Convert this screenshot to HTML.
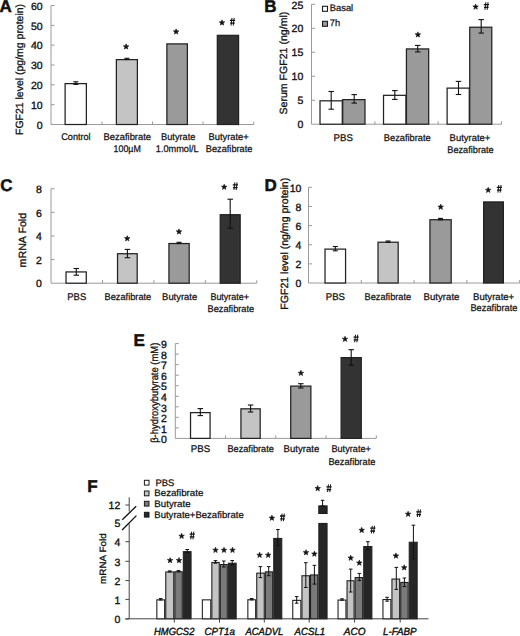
<!DOCTYPE html>
<html><head><meta charset="utf-8"><style>
html,body{margin:0;padding:0;background:#fff;}
svg{display:block;font-family:"Liberation Sans", sans-serif;}
text{fill:#111;}
</style></head><body>
<svg width="520" height="636" viewBox="0 0 520 636" text-rendering="geometricPrecision">
<rect width="520" height="636" fill="#fff"/>
<text x="-0.50" y="11.70" font-size="17" text-anchor="start" font-weight="bold" stroke="#111" stroke-width="0.5">A</text>
<line x1="51.00" y1="5.52" x2="51.00" y2="124.50" stroke="#9a9a9a" stroke-width="1.0"/>
<line x1="51.00" y1="104.67" x2="54.50" y2="104.67" stroke="#9a9a9a" stroke-width="1.0"/>
<text x="42.60" y="108.87" font-size="10.5" text-anchor="end" stroke="#111" stroke-width="0.35">10</text>
<line x1="51.00" y1="84.84" x2="54.50" y2="84.84" stroke="#9a9a9a" stroke-width="1.0"/>
<text x="42.60" y="89.04" font-size="10.5" text-anchor="end" stroke="#111" stroke-width="0.35">20</text>
<line x1="51.00" y1="65.01" x2="54.50" y2="65.01" stroke="#9a9a9a" stroke-width="1.0"/>
<text x="42.60" y="69.21" font-size="10.5" text-anchor="end" stroke="#111" stroke-width="0.35">30</text>
<line x1="51.00" y1="45.18" x2="54.50" y2="45.18" stroke="#9a9a9a" stroke-width="1.0"/>
<text x="42.60" y="49.38" font-size="10.5" text-anchor="end" stroke="#111" stroke-width="0.35">40</text>
<line x1="51.00" y1="25.35" x2="54.50" y2="25.35" stroke="#9a9a9a" stroke-width="1.0"/>
<text x="42.60" y="29.55" font-size="10.5" text-anchor="end" stroke="#111" stroke-width="0.35">50</text>
<line x1="51.00" y1="5.52" x2="54.50" y2="5.52" stroke="#9a9a9a" stroke-width="1.0"/>
<text x="42.60" y="9.72" font-size="10.5" text-anchor="end" stroke="#111" stroke-width="0.35">60</text>
<text x="42.60" y="128.70" font-size="10.5" text-anchor="end" stroke="#111" stroke-width="0.35">0</text>
<line x1="51.00" y1="124.50" x2="253.80" y2="124.50" stroke="#9a9a9a" stroke-width="1.0"/>
<line x1="102.00" y1="124.50" x2="102.00" y2="121.50" stroke="#9a9a9a" stroke-width="1.0"/>
<line x1="152.50" y1="124.50" x2="152.50" y2="121.50" stroke="#9a9a9a" stroke-width="1.0"/>
<line x1="203.00" y1="124.50" x2="203.00" y2="121.50" stroke="#9a9a9a" stroke-width="1.0"/>
<line x1="253.80" y1="124.50" x2="253.80" y2="121.50" stroke="#9a9a9a" stroke-width="1.0"/>
<text transform="translate(23.00,69.45) rotate(-90)" font-size="10.5" text-anchor="middle" textLength="131.10" lengthAdjust="spacingAndGlyphs" stroke="#111" stroke-width="0.3">FGF21 level (pg/mg protein)</text>
<rect x="65.12" y="83.62" width="21.25" height="40.88" fill="#ffffff" stroke="#222" stroke-width="1.25"/>
<line x1="75.80" y1="81.80" x2="75.80" y2="84.40" stroke="#111" stroke-width="1.1"/>
<line x1="73.30" y1="81.80" x2="78.30" y2="81.80" stroke="#111" stroke-width="1.1"/>
<line x1="73.30" y1="84.40" x2="78.30" y2="84.40" stroke="#111" stroke-width="1.1"/>
<rect x="116.38" y="59.62" width="21.00" height="64.88" fill="#c4c4c4" stroke="#222" stroke-width="1.25"/>
<line x1="126.90" y1="58.30" x2="126.90" y2="59.50" stroke="#111" stroke-width="1.1"/>
<line x1="124.40" y1="58.30" x2="129.40" y2="58.30" stroke="#111" stroke-width="1.1"/>
<line x1="124.40" y1="59.50" x2="129.40" y2="59.50" stroke="#111" stroke-width="1.1"/>
<rect x="166.88" y="43.88" width="20.50" height="80.62" fill="#9a9a9a" stroke="#222" stroke-width="1.25"/>
<rect x="217.32" y="35.33" width="21.25" height="89.17" fill="#333333" stroke="#222" stroke-width="1.25"/>
<polygon points="126.10,43.85 126.82,45.76 128.86,45.85 127.26,47.13 127.80,49.10 126.10,47.97 124.40,49.10 124.94,47.13 123.34,45.85 125.38,45.76" fill="#111" stroke="#111" stroke-width="0.6" stroke-linejoin="round"/>
<polygon points="176.10,28.85 176.82,30.76 178.86,30.85 177.26,32.13 177.80,34.10 176.10,32.97 174.40,34.10 174.94,32.13 173.34,30.85 175.38,30.76" fill="#111" stroke="#111" stroke-width="0.6" stroke-linejoin="round"/>
<polygon points="222.00,19.85 222.72,21.76 224.76,21.85 223.16,23.13 223.70,25.10 222.00,23.97 220.30,25.10 220.84,23.13 219.24,21.85 221.28,21.76" fill="#111" stroke="#111" stroke-width="0.6" stroke-linejoin="round"/>
<path d="M231.05,25.60L231.95,18.00M233.25,25.60L234.15,18.00" stroke="#111" stroke-width="1.0" fill="none"/>
<path d="M229.90,20.40L235.10,20.40M230.10,23.20L234.70,23.20" stroke="#111" stroke-width="1.3" fill="none"/>
<text x="75.95" y="140.30" font-size="9.7" text-anchor="middle" textLength="29.30" lengthAdjust="spacingAndGlyphs" stroke="#111" stroke-width="0.25">Control</text>
<text x="127.30" y="140.30" font-size="9.7" text-anchor="middle" textLength="47.40" lengthAdjust="spacingAndGlyphs" stroke="#111" stroke-width="0.25">Bezafibrate</text>
<text x="127.20" y="152.30" font-size="9.7" text-anchor="middle" textLength="27.20" lengthAdjust="spacingAndGlyphs" stroke="#111" stroke-width="0.25">100µM</text>
<text x="178.25" y="140.30" font-size="9.7" text-anchor="middle" textLength="34.30" lengthAdjust="spacingAndGlyphs" stroke="#111" stroke-width="0.25">Butyrate</text>
<text x="177.20" y="152.30" font-size="9.7" text-anchor="middle" textLength="42.80" lengthAdjust="spacingAndGlyphs" stroke="#111" stroke-width="0.25">1.0mmol/L</text>
<text x="228.60" y="140.30" font-size="9.7" text-anchor="middle" textLength="40.20" lengthAdjust="spacingAndGlyphs" stroke="#111" stroke-width="0.25">Butyrate+</text>
<text x="229.10" y="152.30" font-size="9.7" text-anchor="middle" textLength="46.60" lengthAdjust="spacingAndGlyphs" stroke="#111" stroke-width="0.25">Bezafibrate</text>
<text x="264.30" y="11.80" font-size="17" text-anchor="start" font-weight="bold" stroke="#111" stroke-width="0.5">B</text>
<line x1="311.50" y1="4.30" x2="311.50" y2="124.20" stroke="#9a9a9a" stroke-width="1.0"/>
<line x1="311.50" y1="100.22" x2="315.00" y2="100.22" stroke="#9a9a9a" stroke-width="1.0"/>
<text x="303.30" y="104.42" font-size="10.5" text-anchor="end" stroke="#111" stroke-width="0.35">5</text>
<line x1="311.50" y1="76.24" x2="315.00" y2="76.24" stroke="#9a9a9a" stroke-width="1.0"/>
<text x="303.30" y="80.44" font-size="10.5" text-anchor="end" stroke="#111" stroke-width="0.35">10</text>
<line x1="311.50" y1="52.26" x2="315.00" y2="52.26" stroke="#9a9a9a" stroke-width="1.0"/>
<text x="303.30" y="56.46" font-size="10.5" text-anchor="end" stroke="#111" stroke-width="0.35">15</text>
<line x1="311.50" y1="28.28" x2="315.00" y2="28.28" stroke="#9a9a9a" stroke-width="1.0"/>
<text x="303.30" y="32.48" font-size="10.5" text-anchor="end" stroke="#111" stroke-width="0.35">20</text>
<line x1="311.50" y1="4.30" x2="315.00" y2="4.30" stroke="#9a9a9a" stroke-width="1.0"/>
<text x="303.30" y="8.50" font-size="10.5" text-anchor="end" stroke="#111" stroke-width="0.35">25</text>
<text x="303.30" y="128.40" font-size="10.5" text-anchor="end" stroke="#111" stroke-width="0.35">0</text>
<line x1="311.50" y1="124.20" x2="501.60" y2="124.20" stroke="#9a9a9a" stroke-width="1.0"/>
<line x1="374.90" y1="124.20" x2="374.90" y2="121.20" stroke="#9a9a9a" stroke-width="1.0"/>
<line x1="438.20" y1="124.20" x2="438.20" y2="121.20" stroke="#9a9a9a" stroke-width="1.0"/>
<line x1="501.60" y1="124.20" x2="501.60" y2="121.20" stroke="#9a9a9a" stroke-width="1.0"/>
<text transform="translate(286.60,63.10) rotate(-90)" font-size="10.5" text-anchor="middle" textLength="102.80" lengthAdjust="spacingAndGlyphs" stroke="#111" stroke-width="0.3">Serum FGF21 (ng/ml)</text>
<rect x="322.5" y="6.3" width="5" height="5" fill="#fff" stroke="#1a1a1a" stroke-width="1.1"/>
<rect x="322.5" y="21.3" width="5" height="5" fill="#9a9a9a" stroke="#1a1a1a" stroke-width="1.1"/>
<text x="329.80" y="10.80" font-size="9.5" text-anchor="start" textLength="23.40" lengthAdjust="spacingAndGlyphs" stroke="#111" stroke-width="0.25">Basal</text>
<text x="329.80" y="26.00" font-size="9.5" text-anchor="start" textLength="10.30" lengthAdjust="spacingAndGlyphs" stroke="#111" stroke-width="0.25">7h</text>
<rect x="320.02" y="100.83" width="22.25" height="23.38" fill="#fff" stroke="#222" stroke-width="1.25"/>
<line x1="331.20" y1="91.50" x2="331.20" y2="109.20" stroke="#111" stroke-width="1.1"/>
<line x1="328.45" y1="91.50" x2="333.95" y2="91.50" stroke="#111" stroke-width="1.1"/>
<line x1="328.45" y1="109.20" x2="333.95" y2="109.20" stroke="#111" stroke-width="1.1"/>
<rect x="342.73" y="99.62" width="22.25" height="24.58" fill="#9a9a9a" stroke="#222" stroke-width="1.25"/>
<line x1="354.20" y1="94.60" x2="354.20" y2="103.10" stroke="#111" stroke-width="1.1"/>
<line x1="351.45" y1="94.60" x2="356.95" y2="94.60" stroke="#111" stroke-width="1.1"/>
<line x1="351.45" y1="103.10" x2="356.95" y2="103.10" stroke="#111" stroke-width="1.1"/>
<rect x="383.52" y="95.33" width="22.45" height="28.88" fill="#fff" stroke="#222" stroke-width="1.25"/>
<line x1="394.80" y1="90.60" x2="394.80" y2="99.40" stroke="#111" stroke-width="1.1"/>
<line x1="392.05" y1="90.60" x2="397.55" y2="90.60" stroke="#111" stroke-width="1.1"/>
<line x1="392.05" y1="99.40" x2="397.55" y2="99.40" stroke="#111" stroke-width="1.1"/>
<rect x="406.43" y="48.92" width="22.25" height="75.28" fill="#9a9a9a" stroke="#222" stroke-width="1.25"/>
<line x1="417.70" y1="45.40" x2="417.70" y2="51.90" stroke="#111" stroke-width="1.1"/>
<line x1="414.95" y1="45.40" x2="420.45" y2="45.40" stroke="#111" stroke-width="1.1"/>
<line x1="414.95" y1="51.90" x2="420.45" y2="51.90" stroke="#111" stroke-width="1.1"/>
<rect x="447.12" y="88.12" width="22.15" height="36.08" fill="#fff" stroke="#222" stroke-width="1.25"/>
<line x1="458.50" y1="81.40" x2="458.50" y2="94.50" stroke="#111" stroke-width="1.1"/>
<line x1="455.75" y1="81.40" x2="461.25" y2="81.40" stroke="#111" stroke-width="1.1"/>
<line x1="455.75" y1="94.50" x2="461.25" y2="94.50" stroke="#111" stroke-width="1.1"/>
<rect x="469.73" y="27.23" width="22.05" height="96.97" fill="#9a9a9a" stroke="#222" stroke-width="1.25"/>
<line x1="481.20" y1="19.60" x2="481.20" y2="33.10" stroke="#111" stroke-width="1.1"/>
<line x1="478.45" y1="19.60" x2="483.95" y2="19.60" stroke="#111" stroke-width="1.1"/>
<line x1="478.45" y1="33.10" x2="483.95" y2="33.10" stroke="#111" stroke-width="1.1"/>
<polygon points="417.90,31.85 418.62,33.76 420.66,33.85 419.06,35.13 419.60,37.10 417.90,35.97 416.20,37.10 416.74,35.13 415.14,33.85 417.18,33.76" fill="#111" stroke="#111" stroke-width="0.6" stroke-linejoin="round"/>
<polygon points="475.60,4.00 476.32,5.91 478.36,6.00 476.76,7.28 477.30,9.25 475.60,8.12 473.90,9.25 474.44,7.28 472.84,6.00 474.88,5.91" fill="#111" stroke="#111" stroke-width="0.6" stroke-linejoin="round"/>
<path d="M484.95,9.80L485.85,2.20M487.15,9.80L488.05,2.20" stroke="#111" stroke-width="1.0" fill="none"/>
<path d="M483.80,4.60L489.00,4.60M484.00,7.40L488.60,7.40" stroke="#111" stroke-width="1.3" fill="none"/>
<text x="343.25" y="140.50" font-size="9.7" text-anchor="middle" textLength="19.30" lengthAdjust="spacingAndGlyphs" stroke="#111" stroke-width="0.25">PBS</text>
<text x="407.30" y="140.50" font-size="9.7" text-anchor="middle" textLength="47.00" lengthAdjust="spacingAndGlyphs" stroke="#111" stroke-width="0.25">Bezafibrate</text>
<text x="470.00" y="140.50" font-size="9.7" text-anchor="middle" textLength="40.80" lengthAdjust="spacingAndGlyphs" stroke="#111" stroke-width="0.25">Butyrate+</text>
<text x="470.50" y="152.60" font-size="9.7" text-anchor="middle" textLength="46.40" lengthAdjust="spacingAndGlyphs" stroke="#111" stroke-width="0.25">Bezafibrate</text>
<text x="0.30" y="190.90" font-size="17" text-anchor="start" font-weight="bold" stroke="#111" stroke-width="0.5">C</text>
<line x1="51.00" y1="188.70" x2="51.00" y2="283.20" stroke="#9a9a9a" stroke-width="1.0"/>
<line x1="51.00" y1="259.57" x2="54.50" y2="259.57" stroke="#9a9a9a" stroke-width="1.0"/>
<text x="41.90" y="263.77" font-size="10.5" text-anchor="end" stroke="#111" stroke-width="0.35">2</text>
<line x1="51.00" y1="235.95" x2="54.50" y2="235.95" stroke="#9a9a9a" stroke-width="1.0"/>
<text x="41.90" y="240.15" font-size="10.5" text-anchor="end" stroke="#111" stroke-width="0.35">4</text>
<line x1="51.00" y1="212.32" x2="54.50" y2="212.32" stroke="#9a9a9a" stroke-width="1.0"/>
<text x="41.90" y="216.52" font-size="10.5" text-anchor="end" stroke="#111" stroke-width="0.35">6</text>
<line x1="51.00" y1="188.70" x2="54.50" y2="188.70" stroke="#9a9a9a" stroke-width="1.0"/>
<text x="41.90" y="192.90" font-size="10.5" text-anchor="end" stroke="#111" stroke-width="0.35">8</text>
<text x="41.90" y="287.40" font-size="10.5" text-anchor="end" stroke="#111" stroke-width="0.35">0</text>
<line x1="51.00" y1="283.20" x2="256.80" y2="283.20" stroke="#9a9a9a" stroke-width="1.0"/>
<line x1="102.50" y1="283.20" x2="102.50" y2="280.20" stroke="#9a9a9a" stroke-width="1.0"/>
<line x1="153.90" y1="283.20" x2="153.90" y2="280.20" stroke="#9a9a9a" stroke-width="1.0"/>
<line x1="205.40" y1="283.20" x2="205.40" y2="280.20" stroke="#9a9a9a" stroke-width="1.0"/>
<line x1="256.80" y1="283.20" x2="256.80" y2="280.20" stroke="#9a9a9a" stroke-width="1.0"/>
<text transform="translate(25.90,240.15) rotate(-90)" font-size="10.5" text-anchor="middle" textLength="54.70" lengthAdjust="spacingAndGlyphs" stroke="#111" stroke-width="0.3">mRNA Fold</text>
<rect x="66.03" y="271.93" width="20.25" height="11.27" fill="#fff" stroke="#222" stroke-width="1.25"/>
<line x1="76.30" y1="268.50" x2="76.30" y2="275.20" stroke="#111" stroke-width="1.1"/>
<line x1="73.55" y1="268.50" x2="79.05" y2="268.50" stroke="#111" stroke-width="1.1"/>
<line x1="73.55" y1="275.20" x2="79.05" y2="275.20" stroke="#111" stroke-width="1.1"/>
<rect x="117.53" y="253.72" width="19.65" height="29.47" fill="#c4c4c4" stroke="#222" stroke-width="1.25"/>
<line x1="127.40" y1="249.40" x2="127.40" y2="257.70" stroke="#111" stroke-width="1.1"/>
<line x1="124.65" y1="249.40" x2="130.15" y2="249.40" stroke="#111" stroke-width="1.1"/>
<line x1="124.65" y1="257.70" x2="130.15" y2="257.70" stroke="#111" stroke-width="1.1"/>
<rect x="168.93" y="243.53" width="20.25" height="39.67" fill="#9a9a9a" stroke="#222" stroke-width="1.25"/>
<line x1="179.00" y1="242.30" x2="179.00" y2="243.50" stroke="#111" stroke-width="1.1"/>
<line x1="176.50" y1="242.30" x2="181.50" y2="242.30" stroke="#111" stroke-width="1.1"/>
<line x1="176.50" y1="243.50" x2="181.50" y2="243.50" stroke="#111" stroke-width="1.1"/>
<rect x="220.22" y="214.72" width="19.95" height="68.47" fill="#333333" stroke="#222" stroke-width="1.25"/>
<line x1="230.20" y1="199.20" x2="230.20" y2="228.30" stroke="#111" stroke-width="1.1"/>
<line x1="227.45" y1="199.20" x2="232.95" y2="199.20" stroke="#111" stroke-width="1.1"/>
<line x1="227.45" y1="228.30" x2="232.95" y2="228.30" stroke="#111" stroke-width="1.1"/>
<polygon points="127.20,235.65 127.92,237.56 129.96,237.65 128.36,238.93 128.90,240.90 127.20,239.77 125.50,240.90 126.04,238.93 124.44,237.65 126.48,237.56" fill="#111" stroke="#111" stroke-width="0.6" stroke-linejoin="round"/>
<polygon points="179.00,228.85 179.72,230.76 181.76,230.85 180.16,232.13 180.70,234.10 179.00,232.97 177.30,234.10 177.84,232.13 176.24,230.85 178.28,230.76" fill="#111" stroke="#111" stroke-width="0.6" stroke-linejoin="round"/>
<polygon points="224.20,184.20 224.92,186.11 226.96,186.20 225.36,187.48 225.90,189.45 224.20,188.32 222.50,189.45 223.04,187.48 221.44,186.20 223.48,186.11" fill="#111" stroke="#111" stroke-width="0.6" stroke-linejoin="round"/>
<path d="M233.95,190.00L234.85,182.40M236.15,190.00L237.05,182.40" stroke="#111" stroke-width="1.0" fill="none"/>
<path d="M232.80,184.80L238.00,184.80M233.00,187.60L237.60,187.60" stroke="#111" stroke-width="1.3" fill="none"/>
<text x="76.75" y="300.00" font-size="9.7" text-anchor="middle" textLength="18.90" lengthAdjust="spacingAndGlyphs" stroke="#111" stroke-width="0.25">PBS</text>
<text x="127.90" y="300.00" font-size="9.7" text-anchor="middle" textLength="46.60" lengthAdjust="spacingAndGlyphs" stroke="#111" stroke-width="0.25">Bezafibrate</text>
<text x="179.65" y="300.00" font-size="9.7" text-anchor="middle" textLength="35.10" lengthAdjust="spacingAndGlyphs" stroke="#111" stroke-width="0.25">Butyrate</text>
<text x="229.75" y="300.00" font-size="9.7" text-anchor="middle" textLength="38.70" lengthAdjust="spacingAndGlyphs" stroke="#111" stroke-width="0.25">Butyrate+</text>
<text x="230.85" y="311.90" font-size="9.7" text-anchor="middle" textLength="46.70" lengthAdjust="spacingAndGlyphs" stroke="#111" stroke-width="0.25">Bezafibrate</text>
<text x="264.40" y="190.90" font-size="17" text-anchor="start" font-weight="bold" stroke="#111" stroke-width="0.5">D</text>
<line x1="308.50" y1="187.30" x2="308.50" y2="283.00" stroke="#9a9a9a" stroke-width="1.0"/>
<line x1="308.50" y1="263.86" x2="312.00" y2="263.86" stroke="#9a9a9a" stroke-width="1.0"/>
<text x="301.40" y="268.06" font-size="10.5" text-anchor="end" stroke="#111" stroke-width="0.35">2</text>
<line x1="308.50" y1="244.72" x2="312.00" y2="244.72" stroke="#9a9a9a" stroke-width="1.0"/>
<text x="301.40" y="248.92" font-size="10.5" text-anchor="end" stroke="#111" stroke-width="0.35">4</text>
<line x1="308.50" y1="225.58" x2="312.00" y2="225.58" stroke="#9a9a9a" stroke-width="1.0"/>
<text x="301.40" y="229.78" font-size="10.5" text-anchor="end" stroke="#111" stroke-width="0.35">6</text>
<line x1="308.50" y1="206.44" x2="312.00" y2="206.44" stroke="#9a9a9a" stroke-width="1.0"/>
<text x="301.40" y="210.64" font-size="10.5" text-anchor="end" stroke="#111" stroke-width="0.35">8</text>
<line x1="308.50" y1="187.30" x2="312.00" y2="187.30" stroke="#9a9a9a" stroke-width="1.0"/>
<text x="301.40" y="191.50" font-size="10.5" text-anchor="end" stroke="#111" stroke-width="0.35">10</text>
<text x="301.40" y="287.20" font-size="10.5" text-anchor="end" stroke="#111" stroke-width="0.35">0</text>
<line x1="308.50" y1="283.00" x2="519.70" y2="283.00" stroke="#9a9a9a" stroke-width="1.0"/>
<line x1="361.30" y1="283.00" x2="361.30" y2="280.00" stroke="#9a9a9a" stroke-width="1.0"/>
<line x1="414.10" y1="283.00" x2="414.10" y2="280.00" stroke="#9a9a9a" stroke-width="1.0"/>
<line x1="466.90" y1="283.00" x2="466.90" y2="280.00" stroke="#9a9a9a" stroke-width="1.0"/>
<line x1="519.70" y1="283.00" x2="519.70" y2="280.00" stroke="#9a9a9a" stroke-width="1.0"/>
<text transform="translate(288.40,243.75) rotate(-90)" font-size="10.5" text-anchor="middle" textLength="131.90" lengthAdjust="spacingAndGlyphs" stroke="#111" stroke-width="0.3">FGF21 level (ng/mg protein)</text>
<rect x="325.02" y="249.12" width="20.55" height="33.88" fill="#fff" stroke="#222" stroke-width="1.25"/>
<line x1="335.30" y1="246.50" x2="335.30" y2="250.80" stroke="#111" stroke-width="1.1"/>
<line x1="332.80" y1="246.50" x2="337.80" y2="246.50" stroke="#111" stroke-width="1.1"/>
<line x1="332.80" y1="250.80" x2="337.80" y2="250.80" stroke="#111" stroke-width="1.1"/>
<rect x="378.02" y="242.22" width="20.15" height="40.78" fill="#c4c4c4" stroke="#222" stroke-width="1.25"/>
<line x1="388.10" y1="241.00" x2="388.10" y2="242.30" stroke="#111" stroke-width="1.1"/>
<line x1="385.60" y1="241.00" x2="390.60" y2="241.00" stroke="#111" stroke-width="1.1"/>
<line x1="385.60" y1="242.30" x2="390.60" y2="242.30" stroke="#111" stroke-width="1.1"/>
<rect x="429.93" y="219.72" width="21.25" height="63.28" fill="#9a9a9a" stroke="#222" stroke-width="1.25"/>
<line x1="440.50" y1="218.40" x2="440.50" y2="219.80" stroke="#111" stroke-width="1.1"/>
<line x1="438.00" y1="218.40" x2="443.00" y2="218.40" stroke="#111" stroke-width="1.1"/>
<line x1="438.00" y1="219.80" x2="443.00" y2="219.80" stroke="#111" stroke-width="1.1"/>
<rect x="483.62" y="201.93" width="19.75" height="81.07" fill="#333333" stroke="#222" stroke-width="1.25"/>
<polygon points="440.70,204.15 441.42,206.06 443.46,206.15 441.86,207.43 442.40,209.40 440.70,208.27 439.00,209.40 439.54,207.43 437.94,206.15 439.98,206.06" fill="#111" stroke="#111" stroke-width="0.6" stroke-linejoin="round"/>
<polygon points="488.20,187.25 488.92,189.16 490.96,189.25 489.36,190.53 489.90,192.50 488.20,191.37 486.50,192.50 487.04,190.53 485.44,189.25 487.48,189.16" fill="#111" stroke="#111" stroke-width="0.6" stroke-linejoin="round"/>
<path d="M497.95,192.60L498.85,185.00M500.15,192.60L501.05,185.00" stroke="#111" stroke-width="1.0" fill="none"/>
<path d="M496.80,187.40L502.00,187.40M497.00,190.20L501.60,190.20" stroke="#111" stroke-width="1.3" fill="none"/>
<text x="335.40" y="299.50" font-size="9.7" text-anchor="middle" textLength="19.20" lengthAdjust="spacingAndGlyphs" stroke="#111" stroke-width="0.25">PBS</text>
<text x="387.85" y="299.50" font-size="9.7" text-anchor="middle" textLength="46.50" lengthAdjust="spacingAndGlyphs" stroke="#111" stroke-width="0.25">Bezafibrate</text>
<text x="441.50" y="299.50" font-size="9.7" text-anchor="middle" textLength="35.80" lengthAdjust="spacingAndGlyphs" stroke="#111" stroke-width="0.25">Butyrate</text>
<text x="493.60" y="299.70" font-size="9.7" text-anchor="middle" textLength="41.20" lengthAdjust="spacingAndGlyphs" stroke="#111" stroke-width="0.25">Butyrate+</text>
<text x="493.95" y="311.40" font-size="9.7" text-anchor="middle" textLength="47.10" lengthAdjust="spacingAndGlyphs" stroke="#111" stroke-width="0.25">Bezafibrate</text>
<text x="133.50" y="346.00" font-size="17" text-anchor="start" font-weight="bold" stroke="#111" stroke-width="0.5">E</text>
<line x1="175.30" y1="343.60" x2="175.30" y2="438.40" stroke="#9a9a9a" stroke-width="1.0"/>
<line x1="175.30" y1="427.87" x2="178.80" y2="427.87" stroke="#9a9a9a" stroke-width="1.0"/>
<text x="166.80" y="432.57" font-size="10.5" text-anchor="end" stroke="#111" stroke-width="0.35">1</text>
<line x1="175.30" y1="417.33" x2="178.80" y2="417.33" stroke="#9a9a9a" stroke-width="1.0"/>
<text x="166.80" y="422.03" font-size="10.5" text-anchor="end" stroke="#111" stroke-width="0.35">2</text>
<line x1="175.30" y1="406.80" x2="178.80" y2="406.80" stroke="#9a9a9a" stroke-width="1.0"/>
<text x="166.80" y="411.50" font-size="10.5" text-anchor="end" stroke="#111" stroke-width="0.35">3</text>
<line x1="175.30" y1="396.27" x2="178.80" y2="396.27" stroke="#9a9a9a" stroke-width="1.0"/>
<text x="166.80" y="400.97" font-size="10.5" text-anchor="end" stroke="#111" stroke-width="0.35">4</text>
<line x1="175.30" y1="385.73" x2="178.80" y2="385.73" stroke="#9a9a9a" stroke-width="1.0"/>
<text x="166.80" y="390.43" font-size="10.5" text-anchor="end" stroke="#111" stroke-width="0.35">5</text>
<line x1="175.30" y1="375.20" x2="178.80" y2="375.20" stroke="#9a9a9a" stroke-width="1.0"/>
<text x="166.80" y="379.90" font-size="10.5" text-anchor="end" stroke="#111" stroke-width="0.35">6</text>
<line x1="175.30" y1="364.67" x2="178.80" y2="364.67" stroke="#9a9a9a" stroke-width="1.0"/>
<text x="166.80" y="369.37" font-size="10.5" text-anchor="end" stroke="#111" stroke-width="0.35">7</text>
<line x1="175.30" y1="354.13" x2="178.80" y2="354.13" stroke="#9a9a9a" stroke-width="1.0"/>
<text x="166.80" y="358.83" font-size="10.5" text-anchor="end" stroke="#111" stroke-width="0.35">8</text>
<line x1="175.30" y1="343.60" x2="178.80" y2="343.60" stroke="#9a9a9a" stroke-width="1.0"/>
<text x="166.80" y="348.30" font-size="10.5" text-anchor="end" stroke="#111" stroke-width="0.35">9</text>
<text x="166.80" y="443.00" font-size="10.5" text-anchor="end" stroke="#111" stroke-width="0.35">0</text>
<line x1="175.30" y1="438.40" x2="376.30" y2="438.40" stroke="#9a9a9a" stroke-width="1.0"/>
<line x1="225.50" y1="438.40" x2="225.50" y2="435.40" stroke="#9a9a9a" stroke-width="1.0"/>
<line x1="275.80" y1="438.40" x2="275.80" y2="435.40" stroke="#9a9a9a" stroke-width="1.0"/>
<line x1="326.00" y1="438.40" x2="326.00" y2="435.40" stroke="#9a9a9a" stroke-width="1.0"/>
<line x1="376.30" y1="438.40" x2="376.30" y2="435.40" stroke="#9a9a9a" stroke-width="1.0"/>
<text transform="translate(158.00,392.75) rotate(-90)" font-size="10.5" text-anchor="middle" textLength="100.10" lengthAdjust="spacingAndGlyphs" stroke="#111" stroke-width="0.3">β-hydroxybutyrate (mM)</text>
<rect x="190.53" y="412.62" width="19.55" height="25.77" fill="#fff" stroke="#222" stroke-width="1.25"/>
<line x1="200.30" y1="408.60" x2="200.30" y2="415.60" stroke="#111" stroke-width="1.1"/>
<line x1="197.55" y1="408.60" x2="203.05" y2="408.60" stroke="#111" stroke-width="1.1"/>
<line x1="197.55" y1="415.60" x2="203.05" y2="415.60" stroke="#111" stroke-width="1.1"/>
<rect x="240.93" y="408.82" width="19.25" height="29.57" fill="#c4c4c4" stroke="#222" stroke-width="1.25"/>
<line x1="250.60" y1="405.00" x2="250.60" y2="412.00" stroke="#111" stroke-width="1.1"/>
<line x1="247.85" y1="405.00" x2="253.35" y2="405.00" stroke="#111" stroke-width="1.1"/>
<line x1="247.85" y1="412.00" x2="253.35" y2="412.00" stroke="#111" stroke-width="1.1"/>
<rect x="290.73" y="386.12" width="20.15" height="52.27" fill="#9a9a9a" stroke="#222" stroke-width="1.25"/>
<line x1="300.80" y1="383.70" x2="300.80" y2="388.00" stroke="#111" stroke-width="1.1"/>
<line x1="298.05" y1="383.70" x2="303.55" y2="383.70" stroke="#111" stroke-width="1.1"/>
<line x1="298.05" y1="388.00" x2="303.55" y2="388.00" stroke="#111" stroke-width="1.1"/>
<rect x="341.12" y="357.62" width="20.15" height="80.77" fill="#333333" stroke="#222" stroke-width="1.25"/>
<line x1="351.20" y1="349.70" x2="351.20" y2="365.30" stroke="#111" stroke-width="1.1"/>
<line x1="348.45" y1="349.70" x2="353.95" y2="349.70" stroke="#111" stroke-width="1.1"/>
<line x1="348.45" y1="365.30" x2="353.95" y2="365.30" stroke="#111" stroke-width="1.1"/>
<polygon points="300.90,370.25 301.62,372.16 303.66,372.25 302.06,373.53 302.60,375.50 300.90,374.37 299.20,375.50 299.74,373.53 298.14,372.25 300.18,372.16" fill="#111" stroke="#111" stroke-width="0.6" stroke-linejoin="round"/>
<polygon points="345.00,336.25 345.72,338.16 347.76,338.25 346.16,339.53 346.70,341.50 345.00,340.37 343.30,341.50 343.84,339.53 342.24,338.25 344.28,338.16" fill="#111" stroke="#111" stroke-width="0.6" stroke-linejoin="round"/>
<path d="M354.65,342.30L355.55,334.70M356.85,342.30L357.75,334.70" stroke="#111" stroke-width="1.0" fill="none"/>
<path d="M353.50,337.10L358.70,337.10M353.70,339.90L358.30,339.90" stroke="#111" stroke-width="1.3" fill="none"/>
<text x="200.50" y="452.20" font-size="9.7" text-anchor="middle" textLength="19.40" lengthAdjust="spacingAndGlyphs" stroke="#111" stroke-width="0.25">PBS</text>
<text x="250.65" y="452.20" font-size="9.7" text-anchor="middle" textLength="46.50" lengthAdjust="spacingAndGlyphs" stroke="#111" stroke-width="0.25">Bezafibrate</text>
<text x="301.40" y="452.20" font-size="9.7" text-anchor="middle" textLength="35.60" lengthAdjust="spacingAndGlyphs" stroke="#111" stroke-width="0.25">Butyrate</text>
<text x="351.15" y="452.40" font-size="9.7" text-anchor="middle" textLength="39.50" lengthAdjust="spacingAndGlyphs" stroke="#111" stroke-width="0.25">Butyrate+</text>
<text x="351.90" y="464.50" font-size="9.7" text-anchor="middle" textLength="47.00" lengthAdjust="spacingAndGlyphs" stroke="#111" stroke-width="0.25">Bezafibrate</text>
<text x="87.20" y="492.00" font-size="17" text-anchor="start" font-weight="bold" stroke="#111" stroke-width="0.5">F</text>
<line x1="129.20" y1="497.30" x2="129.20" y2="511.50" stroke="#444" stroke-width="1.0"/>
<line x1="129.20" y1="523.50" x2="129.20" y2="618.80" stroke="#444" stroke-width="1.0"/>
<line x1="125.40" y1="619.00" x2="129.20" y2="619.00" stroke="#444" stroke-width="1.0"/>
<text x="120.30" y="623.20" font-size="10.5" text-anchor="end" stroke="#111" stroke-width="0.35">0</text>
<line x1="125.40" y1="599.40" x2="129.20" y2="599.40" stroke="#444" stroke-width="1.0"/>
<text x="120.30" y="603.60" font-size="10.5" text-anchor="end" stroke="#111" stroke-width="0.35">1</text>
<line x1="125.40" y1="580.60" x2="129.20" y2="580.60" stroke="#444" stroke-width="1.0"/>
<text x="120.30" y="584.80" font-size="10.5" text-anchor="end" stroke="#111" stroke-width="0.35">2</text>
<line x1="125.40" y1="561.30" x2="129.20" y2="561.30" stroke="#444" stroke-width="1.0"/>
<text x="120.30" y="565.50" font-size="10.5" text-anchor="end" stroke="#111" stroke-width="0.35">3</text>
<line x1="125.40" y1="541.70" x2="129.20" y2="541.70" stroke="#444" stroke-width="1.0"/>
<text x="120.30" y="545.90" font-size="10.5" text-anchor="end" stroke="#111" stroke-width="0.35">4</text>
<line x1="125.40" y1="505.00" x2="129.20" y2="505.00" stroke="#444" stroke-width="1.0"/>
<text x="120.30" y="509.40" font-size="10.5" text-anchor="end" stroke="#111" stroke-width="0.35">12</text>
<text x="120.30" y="526.90" font-size="10.5" text-anchor="end" stroke="#111" stroke-width="0.35">5</text>
<line x1="122.30" y1="519.80" x2="136.20" y2="506.20" stroke="#111" stroke-width="1.3"/>
<line x1="122.10" y1="530.00" x2="136.40" y2="515.60" stroke="#111" stroke-width="1.3"/>
<line x1="125.40" y1="618.80" x2="428.50" y2="618.80" stroke="#444" stroke-width="1.0"/>
<line x1="174.30" y1="618.80" x2="174.30" y2="622.60" stroke="#444" stroke-width="1.0"/>
<line x1="219.50" y1="618.80" x2="219.50" y2="622.60" stroke="#444" stroke-width="1.0"/>
<line x1="264.30" y1="618.80" x2="264.30" y2="622.60" stroke="#444" stroke-width="1.0"/>
<line x1="309.20" y1="618.80" x2="309.20" y2="622.60" stroke="#444" stroke-width="1.0"/>
<line x1="354.60" y1="618.80" x2="354.60" y2="622.60" stroke="#444" stroke-width="1.0"/>
<line x1="400.20" y1="618.80" x2="400.20" y2="622.60" stroke="#444" stroke-width="1.0"/>
<text transform="translate(106.40,558.65) rotate(-90)" font-size="9.2" text-anchor="middle" textLength="50.70" lengthAdjust="spacingAndGlyphs" stroke="#111" stroke-width="0.3">mRNA Fold</text>
<rect x="144.4" y="480.30" width="4.6" height="4.8" fill="#fff" stroke="#1a1a1a" stroke-width="1.0"/>
<rect x="144.4" y="491.00" width="4.6" height="4.8" fill="#c4c4c4" stroke="#1a1a1a" stroke-width="1.0"/>
<rect x="144.4" y="501.30" width="4.6" height="4.8" fill="#7a7a7a" stroke="#1a1a1a" stroke-width="1.0"/>
<rect x="144.4" y="512.30" width="4.6" height="4.8" fill="#262626" stroke="#1a1a1a" stroke-width="1.0"/>
<text x="155.40" y="485.90" font-size="9.5" text-anchor="start" textLength="18.90" lengthAdjust="spacingAndGlyphs" stroke="#111" stroke-width="0.25">PBS</text>
<text x="154.30" y="496.40" font-size="9.5" text-anchor="start" textLength="49.00" lengthAdjust="spacingAndGlyphs" stroke="#111" stroke-width="0.25">Bezafibrate</text>
<text x="154.30" y="507.00" font-size="9.5" text-anchor="start" textLength="36.30" lengthAdjust="spacingAndGlyphs" stroke="#111" stroke-width="0.25">Butyrate</text>
<text x="154.30" y="517.60" font-size="9.5" text-anchor="start" textLength="89.40" lengthAdjust="spacingAndGlyphs" stroke="#111" stroke-width="0.25">Butyrate+Bezafibrate</text>
<rect x="156.85" y="599.85" width="7.80" height="18.95" fill="#fff" stroke="#222" stroke-width="1.1"/>
<rect x="165.75" y="571.95" width="8.00" height="46.85" fill="#c4c4c4" stroke="#222" stroke-width="1.1"/>
<rect x="174.85" y="571.75" width="7.40" height="47.05" fill="#7a7a7a" stroke="#222" stroke-width="1.1"/>
<rect x="183.35" y="551.65" width="7.70" height="67.15" fill="#262626" stroke="#222" stroke-width="1.1"/>
<line x1="160.70" y1="598.60" x2="160.70" y2="600.00" stroke="#111" stroke-width="1.0"/>
<line x1="158.90" y1="598.60" x2="162.50" y2="598.60" stroke="#111" stroke-width="1.0"/>
<line x1="158.90" y1="600.00" x2="162.50" y2="600.00" stroke="#111" stroke-width="1.0"/>
<line x1="169.70" y1="570.90" x2="169.70" y2="571.90" stroke="#111" stroke-width="1.0"/>
<line x1="167.90" y1="570.90" x2="171.50" y2="570.90" stroke="#111" stroke-width="1.0"/>
<line x1="167.90" y1="571.90" x2="171.50" y2="571.90" stroke="#111" stroke-width="1.0"/>
<line x1="178.50" y1="570.60" x2="178.50" y2="571.80" stroke="#111" stroke-width="1.0"/>
<line x1="176.70" y1="570.60" x2="180.30" y2="570.60" stroke="#111" stroke-width="1.0"/>
<line x1="176.70" y1="571.80" x2="180.30" y2="571.80" stroke="#111" stroke-width="1.0"/>
<line x1="187.20" y1="549.50" x2="187.20" y2="552.60" stroke="#111" stroke-width="1.0"/>
<line x1="185.40" y1="549.50" x2="189.00" y2="549.50" stroke="#111" stroke-width="1.0"/>
<line x1="185.40" y1="552.60" x2="189.00" y2="552.60" stroke="#111" stroke-width="1.0"/>
<rect x="202.35" y="599.85" width="8.40" height="18.95" fill="#fff" stroke="#222" stroke-width="1.1"/>
<rect x="211.85" y="562.45" width="7.40" height="56.35" fill="#c4c4c4" stroke="#222" stroke-width="1.1"/>
<rect x="220.35" y="564.55" width="6.90" height="54.25" fill="#7a7a7a" stroke="#222" stroke-width="1.1"/>
<rect x="228.35" y="563.25" width="7.80" height="55.55" fill="#262626" stroke="#222" stroke-width="1.1"/>
<line x1="215.50" y1="560.60" x2="215.50" y2="563.20" stroke="#111" stroke-width="1.0"/>
<line x1="213.70" y1="560.60" x2="217.30" y2="560.60" stroke="#111" stroke-width="1.0"/>
<line x1="213.70" y1="563.20" x2="217.30" y2="563.20" stroke="#111" stroke-width="1.0"/>
<line x1="223.80" y1="561.00" x2="223.80" y2="567.00" stroke="#111" stroke-width="1.0"/>
<line x1="222.00" y1="561.00" x2="225.60" y2="561.00" stroke="#111" stroke-width="1.0"/>
<line x1="222.00" y1="567.00" x2="225.60" y2="567.00" stroke="#111" stroke-width="1.0"/>
<line x1="232.20" y1="560.50" x2="232.20" y2="565.00" stroke="#111" stroke-width="1.0"/>
<line x1="230.40" y1="560.50" x2="234.00" y2="560.50" stroke="#111" stroke-width="1.0"/>
<line x1="230.40" y1="565.00" x2="234.00" y2="565.00" stroke="#111" stroke-width="1.0"/>
<rect x="247.85" y="599.75" width="7.80" height="19.05" fill="#fff" stroke="#222" stroke-width="1.1"/>
<rect x="256.75" y="573.15" width="7.50" height="45.65" fill="#c4c4c4" stroke="#222" stroke-width="1.1"/>
<rect x="265.35" y="571.85" width="7.30" height="46.95" fill="#7a7a7a" stroke="#222" stroke-width="1.1"/>
<rect x="273.75" y="538.45" width="8.00" height="80.35" fill="#262626" stroke="#222" stroke-width="1.1"/>
<line x1="251.70" y1="598.50" x2="251.70" y2="599.90" stroke="#111" stroke-width="1.0"/>
<line x1="249.90" y1="598.50" x2="253.50" y2="598.50" stroke="#111" stroke-width="1.0"/>
<line x1="249.90" y1="599.90" x2="253.50" y2="599.90" stroke="#111" stroke-width="1.0"/>
<line x1="260.40" y1="566.60" x2="260.40" y2="577.60" stroke="#111" stroke-width="1.0"/>
<line x1="258.60" y1="566.60" x2="262.20" y2="566.60" stroke="#111" stroke-width="1.0"/>
<line x1="258.60" y1="577.60" x2="262.20" y2="577.60" stroke="#111" stroke-width="1.0"/>
<line x1="268.70" y1="566.60" x2="268.70" y2="575.70" stroke="#111" stroke-width="1.0"/>
<line x1="266.90" y1="566.60" x2="270.50" y2="566.60" stroke="#111" stroke-width="1.0"/>
<line x1="266.90" y1="575.70" x2="270.50" y2="575.70" stroke="#111" stroke-width="1.0"/>
<line x1="277.90" y1="529.50" x2="277.90" y2="545.70" stroke="#111" stroke-width="1.0"/>
<line x1="276.10" y1="529.50" x2="279.70" y2="529.50" stroke="#111" stroke-width="1.0"/>
<line x1="276.10" y1="545.70" x2="279.70" y2="545.70" stroke="#111" stroke-width="1.0"/>
<rect x="292.75" y="600.35" width="8.10" height="18.45" fill="#fff" stroke="#222" stroke-width="1.1"/>
<rect x="301.95" y="575.75" width="7.50" height="43.05" fill="#c4c4c4" stroke="#222" stroke-width="1.1"/>
<rect x="310.55" y="574.95" width="7.20" height="43.85" fill="#7a7a7a" stroke="#222" stroke-width="1.1"/>
<rect x="318.85" y="523.45" width="8.20" height="95.35" fill="#262626" stroke="#222" stroke-width="1.1"/>
<rect x="318.80" y="505.9" width="8.30" height="7.6" fill="#262626" stroke="#1a1a1a" stroke-width="1.0"/>
<line x1="296.70" y1="596.60" x2="296.70" y2="603.20" stroke="#111" stroke-width="1.0"/>
<line x1="294.90" y1="596.60" x2="298.50" y2="596.60" stroke="#111" stroke-width="1.0"/>
<line x1="294.90" y1="603.20" x2="298.50" y2="603.20" stroke="#111" stroke-width="1.0"/>
<line x1="305.80" y1="562.70" x2="305.80" y2="587.50" stroke="#111" stroke-width="1.0"/>
<line x1="304.00" y1="562.70" x2="307.60" y2="562.70" stroke="#111" stroke-width="1.0"/>
<line x1="304.00" y1="587.50" x2="307.60" y2="587.50" stroke="#111" stroke-width="1.0"/>
<line x1="314.40" y1="565.30" x2="314.40" y2="584.10" stroke="#111" stroke-width="1.0"/>
<line x1="312.60" y1="565.30" x2="316.20" y2="565.30" stroke="#111" stroke-width="1.0"/>
<line x1="312.60" y1="584.10" x2="316.20" y2="584.10" stroke="#111" stroke-width="1.0"/>
<line x1="322.60" y1="500.30" x2="322.60" y2="505.90" stroke="#111" stroke-width="1.0"/>
<line x1="320.80" y1="500.30" x2="324.40" y2="500.30" stroke="#111" stroke-width="1.0"/>
<line x1="320.80" y1="505.90" x2="324.40" y2="505.90" stroke="#111" stroke-width="1.0"/>
<rect x="338.05" y="600.05" width="7.90" height="18.75" fill="#fff" stroke="#222" stroke-width="1.1"/>
<rect x="347.05" y="580.75" width="7.00" height="38.05" fill="#c4c4c4" stroke="#222" stroke-width="1.1"/>
<rect x="355.15" y="577.55" width="7.50" height="41.25" fill="#7a7a7a" stroke="#222" stroke-width="1.1"/>
<rect x="363.75" y="546.55" width="8.10" height="72.25" fill="#262626" stroke="#222" stroke-width="1.1"/>
<line x1="342.00" y1="598.80" x2="342.00" y2="600.20" stroke="#111" stroke-width="1.0"/>
<line x1="340.20" y1="598.80" x2="343.80" y2="598.80" stroke="#111" stroke-width="1.0"/>
<line x1="340.20" y1="600.20" x2="343.80" y2="600.20" stroke="#111" stroke-width="1.0"/>
<line x1="350.70" y1="569.10" x2="350.70" y2="592.00" stroke="#111" stroke-width="1.0"/>
<line x1="348.90" y1="569.10" x2="352.50" y2="569.10" stroke="#111" stroke-width="1.0"/>
<line x1="348.90" y1="592.00" x2="352.50" y2="592.00" stroke="#111" stroke-width="1.0"/>
<line x1="359.30" y1="573.40" x2="359.30" y2="580.60" stroke="#111" stroke-width="1.0"/>
<line x1="357.50" y1="573.40" x2="361.10" y2="573.40" stroke="#111" stroke-width="1.0"/>
<line x1="357.50" y1="580.60" x2="361.10" y2="580.60" stroke="#111" stroke-width="1.0"/>
<line x1="367.90" y1="541.70" x2="367.90" y2="549.60" stroke="#111" stroke-width="1.0"/>
<line x1="366.10" y1="541.70" x2="369.70" y2="541.70" stroke="#111" stroke-width="1.0"/>
<line x1="366.10" y1="549.60" x2="369.70" y2="549.60" stroke="#111" stroke-width="1.0"/>
<rect x="382.95" y="599.55" width="7.90" height="19.25" fill="#fff" stroke="#222" stroke-width="1.1"/>
<rect x="391.95" y="579.05" width="7.70" height="39.75" fill="#c4c4c4" stroke="#222" stroke-width="1.1"/>
<rect x="400.75" y="582.45" width="7.40" height="36.35" fill="#7a7a7a" stroke="#222" stroke-width="1.1"/>
<rect x="409.25" y="542.25" width="7.90" height="76.55" fill="#262626" stroke="#222" stroke-width="1.1"/>
<line x1="387.10" y1="597.30" x2="387.10" y2="601.20" stroke="#111" stroke-width="1.0"/>
<line x1="385.30" y1="597.30" x2="388.90" y2="597.30" stroke="#111" stroke-width="1.0"/>
<line x1="385.30" y1="601.20" x2="388.90" y2="601.20" stroke="#111" stroke-width="1.0"/>
<line x1="396.30" y1="567.40" x2="396.30" y2="589.40" stroke="#111" stroke-width="1.0"/>
<line x1="394.50" y1="567.40" x2="398.10" y2="567.40" stroke="#111" stroke-width="1.0"/>
<line x1="394.50" y1="589.40" x2="398.10" y2="589.40" stroke="#111" stroke-width="1.0"/>
<line x1="404.40" y1="578.00" x2="404.40" y2="586.60" stroke="#111" stroke-width="1.0"/>
<line x1="402.60" y1="578.00" x2="406.20" y2="578.00" stroke="#111" stroke-width="1.0"/>
<line x1="402.60" y1="586.60" x2="406.20" y2="586.60" stroke="#111" stroke-width="1.0"/>
<line x1="413.40" y1="525.20" x2="413.40" y2="558.80" stroke="#111" stroke-width="1.0"/>
<line x1="411.60" y1="525.20" x2="415.20" y2="525.20" stroke="#111" stroke-width="1.0"/>
<line x1="411.60" y1="558.80" x2="415.20" y2="558.80" stroke="#111" stroke-width="1.0"/>
<polygon points="170.10,557.55 170.82,559.46 172.86,559.55 171.26,560.83 171.80,562.80 170.10,561.67 168.40,562.80 168.94,560.83 167.34,559.55 169.38,559.46" fill="#111" stroke="#111" stroke-width="0.6" stroke-linejoin="round"/>
<polygon points="179.00,557.55 179.72,559.46 181.76,559.55 180.16,560.83 180.70,562.80 179.00,561.67 177.30,562.80 177.84,560.83 176.24,559.55 178.28,559.46" fill="#111" stroke="#111" stroke-width="0.6" stroke-linejoin="round"/>
<polygon points="215.50,547.25 216.22,549.16 218.26,549.25 216.66,550.53 217.20,552.50 215.50,551.37 213.80,552.50 214.34,550.53 212.74,549.25 214.78,549.16" fill="#111" stroke="#111" stroke-width="0.6" stroke-linejoin="round"/>
<polygon points="224.00,547.25 224.72,549.16 226.76,549.25 225.16,550.53 225.70,552.50 224.00,551.37 222.30,552.50 222.84,550.53 221.24,549.25 223.28,549.16" fill="#111" stroke="#111" stroke-width="0.6" stroke-linejoin="round"/>
<polygon points="232.50,547.25 233.22,549.16 235.26,549.25 233.66,550.53 234.20,552.50 232.50,551.37 230.80,552.50 231.34,550.53 229.74,549.25 231.78,549.16" fill="#111" stroke="#111" stroke-width="0.6" stroke-linejoin="round"/>
<polygon points="259.60,552.25 260.32,554.16 262.36,554.25 260.76,555.53 261.30,557.50 259.60,556.37 257.90,557.50 258.44,555.53 256.84,554.25 258.88,554.16" fill="#111" stroke="#111" stroke-width="0.6" stroke-linejoin="round"/>
<polygon points="268.20,552.25 268.92,554.16 270.96,554.25 269.36,555.53 269.90,557.50 268.20,556.37 266.50,557.50 267.04,555.53 265.44,554.25 267.48,554.16" fill="#111" stroke="#111" stroke-width="0.6" stroke-linejoin="round"/>
<polygon points="306.00,549.65 306.72,551.56 308.76,551.65 307.16,552.93 307.70,554.90 306.00,553.77 304.30,554.90 304.84,552.93 303.24,551.65 305.28,551.56" fill="#111" stroke="#111" stroke-width="0.6" stroke-linejoin="round"/>
<polygon points="314.40,551.05 315.12,552.96 317.16,553.05 315.56,554.33 316.10,556.30 314.40,555.17 312.70,556.30 313.24,554.33 311.64,553.05 313.68,552.96" fill="#111" stroke="#111" stroke-width="0.6" stroke-linejoin="round"/>
<polygon points="350.70,555.15 351.42,557.06 353.46,557.15 351.86,558.43 352.40,560.40 350.70,559.27 349.00,560.40 349.54,558.43 347.94,557.15 349.98,557.06" fill="#111" stroke="#111" stroke-width="0.6" stroke-linejoin="round"/>
<polygon points="359.30,560.05 360.02,561.96 362.06,562.05 360.46,563.33 361.00,565.30 359.30,564.17 357.60,565.30 358.14,563.33 356.54,562.05 358.58,561.96" fill="#111" stroke="#111" stroke-width="0.6" stroke-linejoin="round"/>
<polygon points="395.90,552.95 396.62,554.86 398.66,554.95 397.06,556.23 397.60,558.20 395.90,557.07 394.20,558.20 394.74,556.23 393.14,554.95 395.18,554.86" fill="#111" stroke="#111" stroke-width="0.6" stroke-linejoin="round"/>
<polygon points="404.20,564.75 404.92,566.66 406.96,566.75 405.36,568.03 405.90,570.00 404.20,568.87 402.50,570.00 403.04,568.03 401.44,566.75 403.48,566.66" fill="#111" stroke="#111" stroke-width="0.6" stroke-linejoin="round"/>
<polygon points="181.60,533.25 182.32,535.16 184.36,535.25 182.76,536.53 183.30,538.50 181.60,537.37 179.90,538.50 180.44,536.53 178.84,535.25 180.88,535.16" fill="#111" stroke="#111" stroke-width="0.6" stroke-linejoin="round"/>
<path d="M190.75,539.30L191.65,531.70M192.95,539.30L193.85,531.70" stroke="#111" stroke-width="1.0" fill="none"/>
<path d="M189.60,534.10L194.80,534.10M189.80,536.90L194.40,536.90" stroke="#111" stroke-width="1.3" fill="none"/>
<polygon points="271.90,515.15 272.62,517.06 274.66,517.15 273.06,518.43 273.60,520.40 271.90,519.27 270.20,520.40 270.74,518.43 269.14,517.15 271.18,517.06" fill="#111" stroke="#111" stroke-width="0.6" stroke-linejoin="round"/>
<path d="M281.15,521.20L282.05,513.60M283.35,521.20L284.25,513.60" stroke="#111" stroke-width="1.0" fill="none"/>
<path d="M280.00,516.00L285.20,516.00M280.20,518.80L284.80,518.80" stroke="#111" stroke-width="1.3" fill="none"/>
<polygon points="317.70,485.55 318.42,487.46 320.46,487.55 318.86,488.83 319.40,490.80 317.70,489.67 316.00,490.80 316.54,488.83 314.94,487.55 316.98,487.46" fill="#111" stroke="#111" stroke-width="0.6" stroke-linejoin="round"/>
<path d="M327.55,492.00L328.45,484.40M329.75,492.00L330.65,484.40" stroke="#111" stroke-width="1.0" fill="none"/>
<path d="M326.40,486.80L331.60,486.80M326.60,489.60L331.20,489.60" stroke="#111" stroke-width="1.3" fill="none"/>
<polygon points="361.70,527.35 362.42,529.26 364.46,529.35 362.86,530.63 363.40,532.60 361.70,531.47 360.00,532.60 360.54,530.63 358.94,529.35 360.98,529.26" fill="#111" stroke="#111" stroke-width="0.6" stroke-linejoin="round"/>
<path d="M371.35,533.40L372.25,525.80M373.55,533.40L374.45,525.80" stroke="#111" stroke-width="1.0" fill="none"/>
<path d="M370.20,528.20L375.40,528.20M370.40,531.00L375.00,531.00" stroke="#111" stroke-width="1.3" fill="none"/>
<polygon points="408.10,511.25 408.82,513.16 410.86,513.25 409.26,514.53 409.80,516.50 408.10,515.37 406.40,516.50 406.94,514.53 405.34,513.25 407.38,513.16" fill="#111" stroke="#111" stroke-width="0.6" stroke-linejoin="round"/>
<path d="M417.35,517.00L418.25,509.40M419.55,517.00L420.45,509.40" stroke="#111" stroke-width="1.0" fill="none"/>
<path d="M416.20,511.80L421.40,511.80M416.40,514.60L421.00,514.60" stroke="#111" stroke-width="1.3" fill="none"/>
<text x="174.20" y="635.40" font-size="10.4" text-anchor="middle" font-style="italic" textLength="40.40" lengthAdjust="spacingAndGlyphs" stroke="#111" stroke-width="0.4">HMGCS2</text>
<text x="219.70" y="635.40" font-size="10.4" text-anchor="middle" font-style="italic" textLength="30.20" lengthAdjust="spacingAndGlyphs" stroke="#111" stroke-width="0.4">CPT1a</text>
<text x="264.40" y="635.40" font-size="10.4" text-anchor="middle" font-style="italic" textLength="37.80" lengthAdjust="spacingAndGlyphs" stroke="#111" stroke-width="0.4">ACADVL</text>
<text x="309.85" y="635.40" font-size="10.4" text-anchor="middle" font-style="italic" textLength="30.50" lengthAdjust="spacingAndGlyphs" stroke="#111" stroke-width="0.4">ACSL1</text>
<text x="354.60" y="635.40" font-size="10.4" text-anchor="middle" font-style="italic" textLength="21.80" lengthAdjust="spacingAndGlyphs" stroke="#111" stroke-width="0.4">ACO</text>
<text x="399.80" y="635.40" font-size="10.4" text-anchor="middle" font-style="italic" textLength="33.60" lengthAdjust="spacingAndGlyphs" stroke="#111" stroke-width="0.4">L-FABP</text>
</svg>
</body></html>
